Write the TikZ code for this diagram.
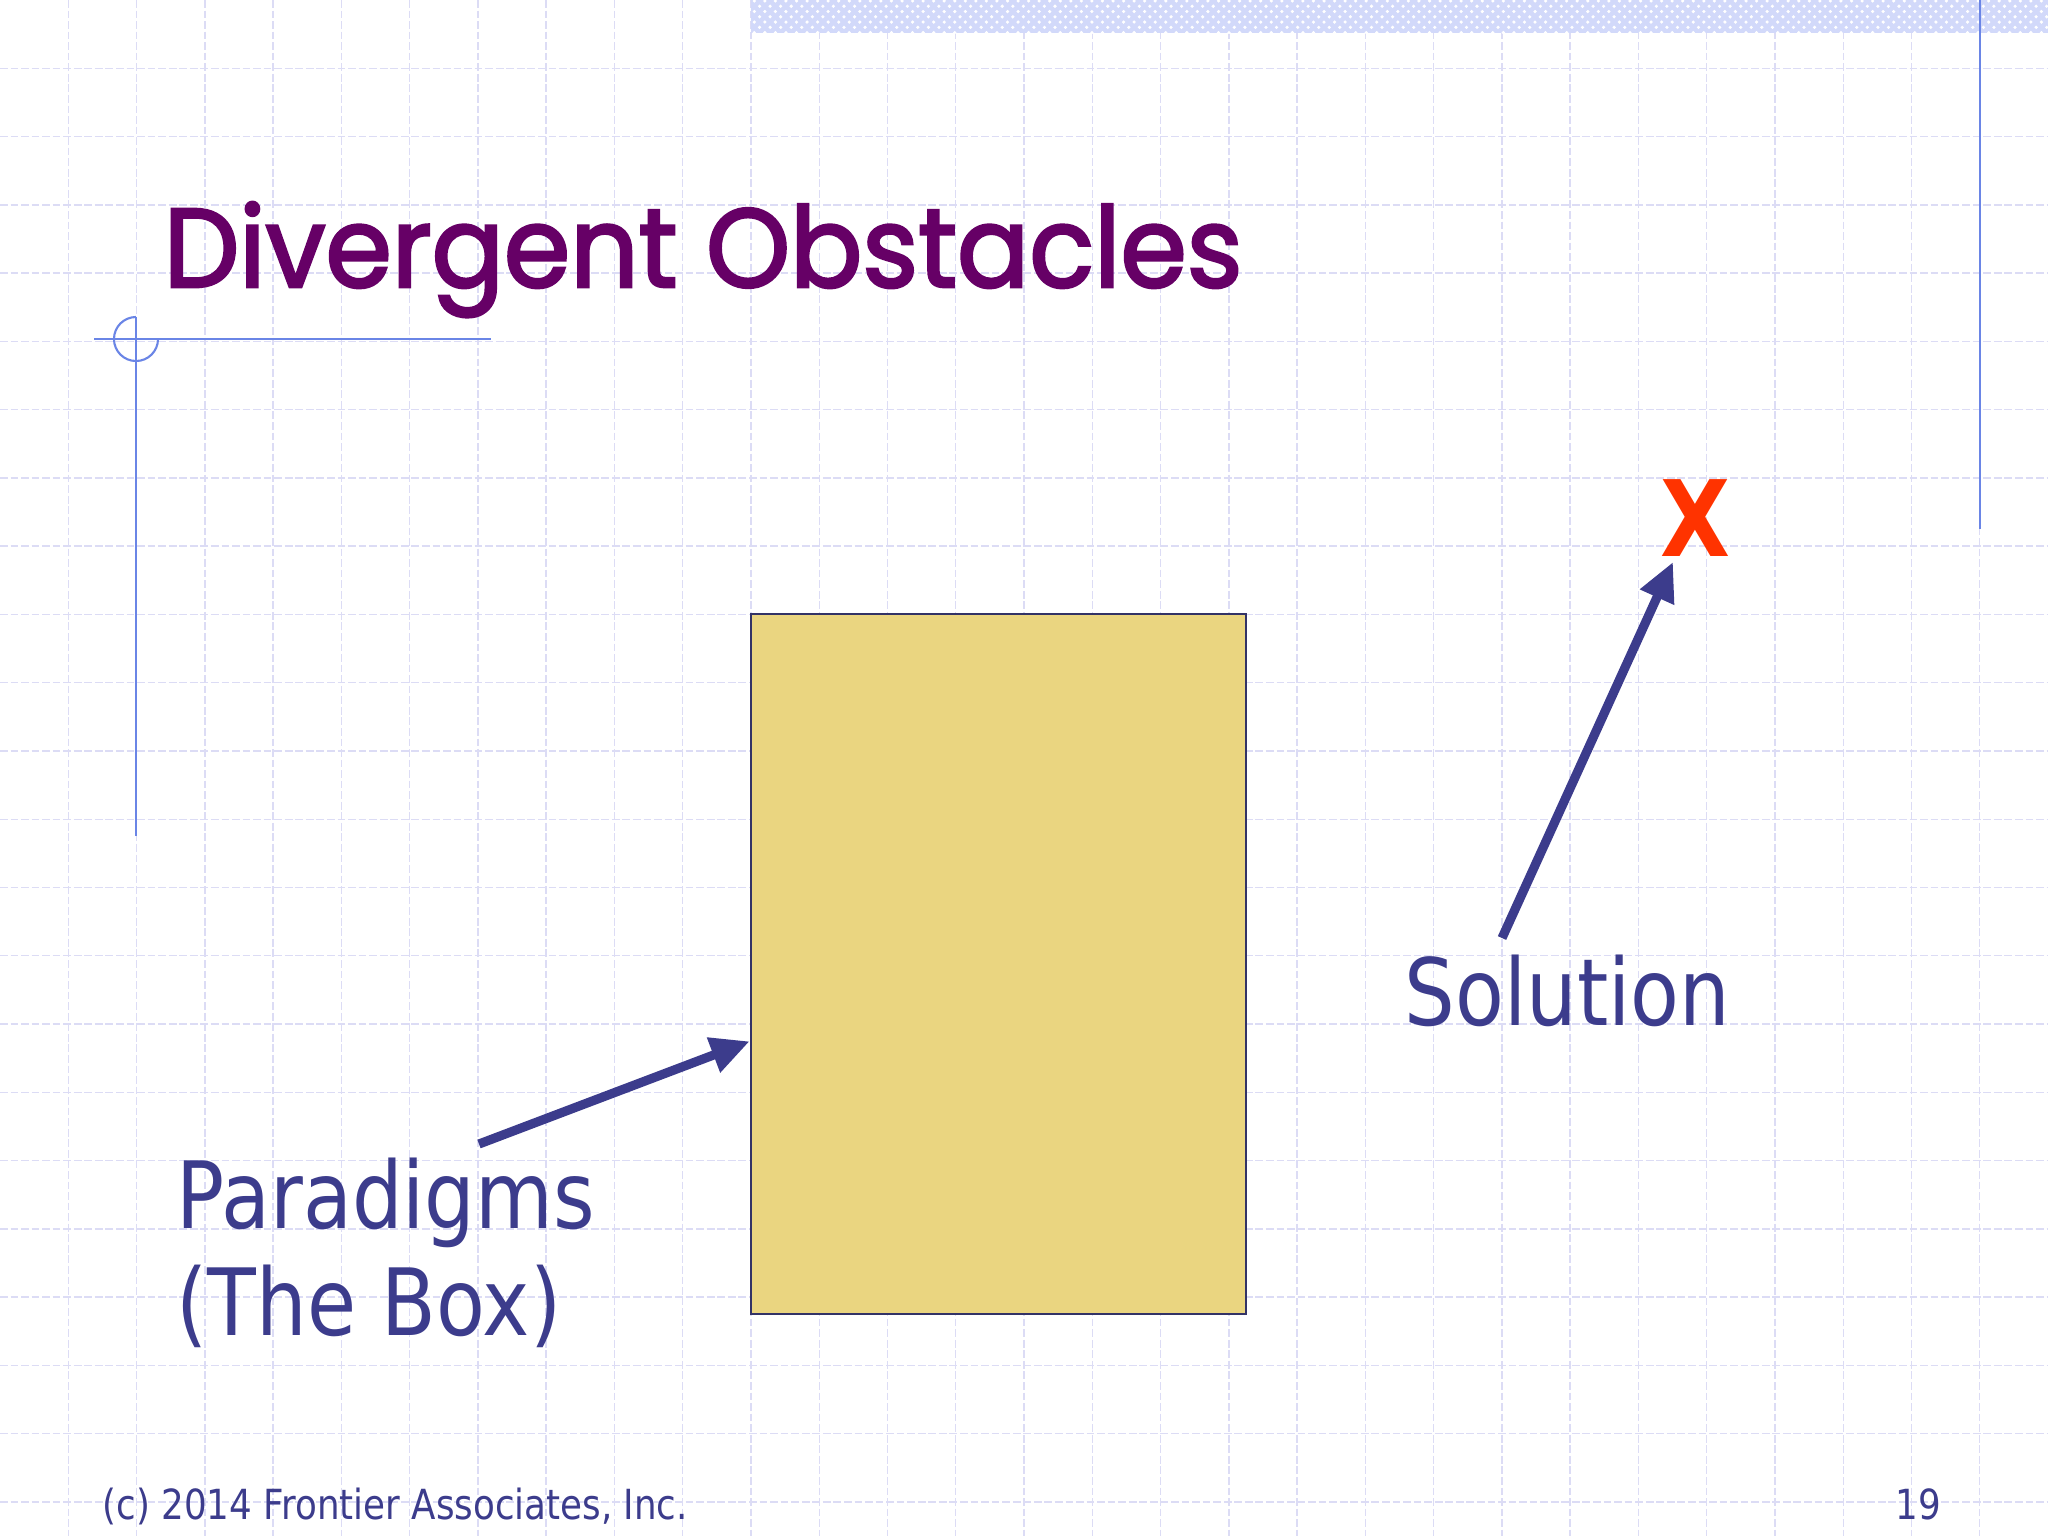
\documentclass[tikz,border=0pt]{standalone}
\usepackage{fontspec}
\usepackage{tikz}
\usetikzlibrary{calc,arrows.meta,patterns,positioning}
\newfontfamily\titlefont{Poppins}[FakeBold=2.5]
\newfontfamily\bodyfont{DejaVu Sans}[FakeStretch=0.86]
\definecolor{titlepurple}{HTML}{660066}
\definecolor{inkblue}{HTML}{3C3C8C}
\definecolor{markred}{HTML}{FF3300}
\definecolor{boxfill}{HTML}{EAD580}
\definecolor{boxedge}{HTML}{333366}
\definecolor{rulerblue}{HTML}{6A85E6}
\definecolor{gridblue}{HTML}{DCDCF5}
\definecolor{bandblue}{HTML}{D2D9FA}

\begin{document}
\begin{tikzpicture}[x=0.01cm,y=-0.01cm,
    gridline/.style={gridblue,line width=0.4pt,dash pattern=on 2.2pt off 0.8pt},
    ruler/.style={rulerblue,line width=0.6pt},
    pointer/.style={inkblue,line width=2.6pt,-{Triangle[length=11pt,width=10pt]}},
    bodytext/.style={inkblue,inner sep=0pt,anchor=base west,align=left,
        font={\bodyfont\fontsize{26.4}{30.3}\selectfont}},
    smalltext/.style={inkblue,inner sep=0pt,font={\bodyfont\fontsize{11.8}{14}\selectfont}}]
            \useasboundingbox (0,0) rectangle (2048,1536);
            \fill[white] (0,0) rectangle (2048,1536);

            % paper grid
            \foreach \k in {1,...,29}
                \draw[gridline] (\k*68.267,0) -- (\k*68.267,1536);
            \foreach \k in {1,...,22}
                \draw[gridline] (0,\k*68.267) -- (2048,\k*68.267);

            % band and rulers
            \fill[bandblue] (751,0) rectangle (2048,33);
            \fill[pattern=crosshatch dots,pattern color=white] (751,0) rectangle (2048,33);
            \draw[ruler] (1980,0) -- (1980,529);
            \draw[ruler] (94,339) -- (491,339);
            \draw[ruler] (136,317) -- (136,836);
            \draw[ruler] (136,317) arc[start angle=90,end angle=360,radius=0.22cm];

            \node[titlepurple,anchor=base west,inner sep=0pt] (title) at (163,287)
                {\resizebox{10.78cm}{0.85cm}{\titlefont Divergent Obstacles}};

            \node[draw=boxedge,fill=boxfill,line width=0.7pt,minimum width=4.95cm,
                minimum height=7cm,inner sep=0pt] (box) at (998.5,964) {};

            \node[bodytext] (paradigms) at (176,1335) {Paradigms\\(The Box)};
            \node[bodytext] (solution) at (1404,1025) {Solution};
            \node[markred,inner sep=0pt,font={\bodyfont\bfseries\fontsize{30}{30}\selectfont}]
                (mark) at (1695,518) {X};

            \coordinate (tailA) at (479,1144);
            \coordinate (tailB) at (1502,938);
            \coordinate (tipB) at (1673,562);
            \draw[pointer] (tailA) -- ($(box.north west)!0.61!(box.south west)$);
            \draw[pointer] (tailB) -- (tipB);

            \node[smalltext,anchor=base west] (credit) at (102,1519) {(c) 2014 Frontier Associates, Inc.};
            \node[smalltext,anchor=base east] (pageno) at (1942,1519) {19};
        \end{tikzpicture}
\end{document}
